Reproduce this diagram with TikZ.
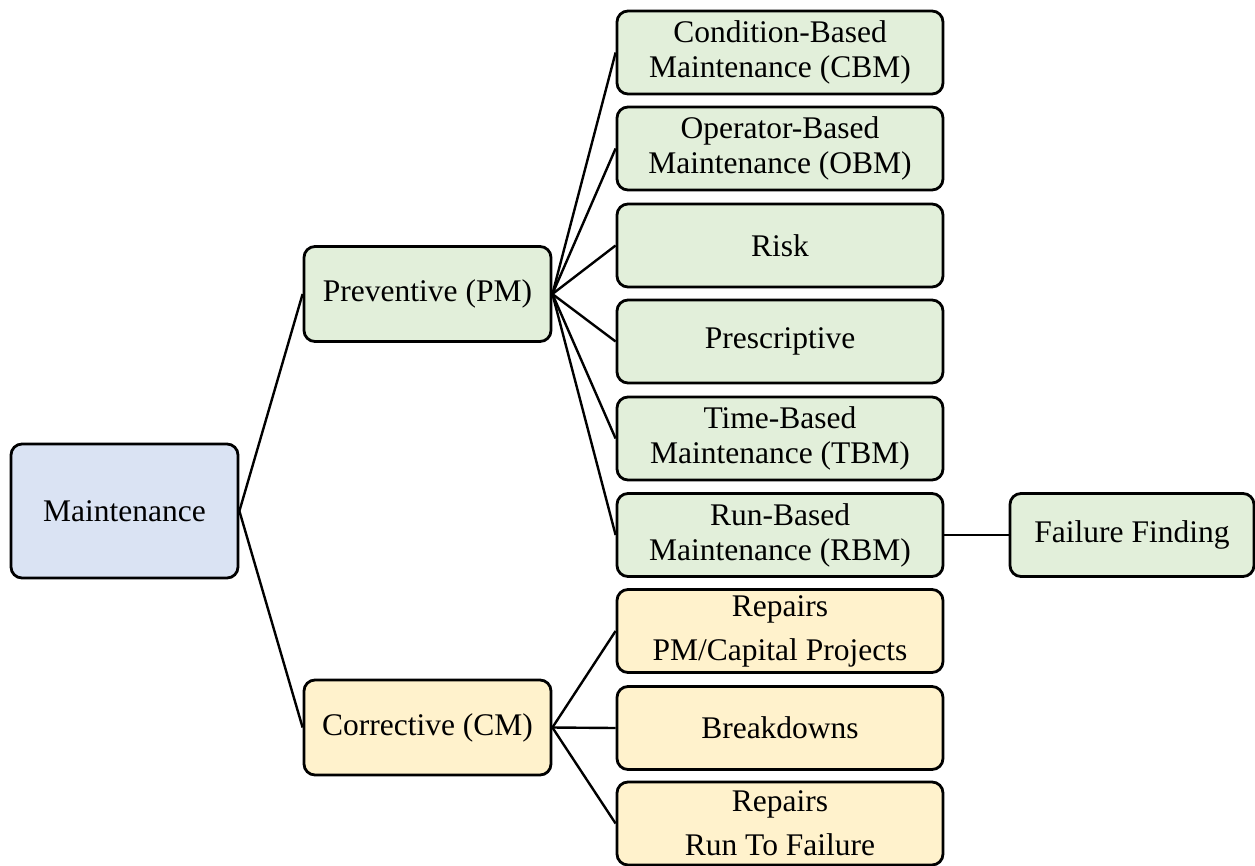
\documentclass[tikz,border=0pt]{standalone}
\usepackage{fontspec}
\setmainfont{Liberation Serif}
\definecolor{rootfill}{HTML}{DAE3F3}
\definecolor{pmfill}{HTML}{E2EFDA}
\definecolor{cmfill}{HTML}{FFF2CC}
\begin{document}
\begin{tikzpicture}[x=1pt,y=-1pt,
  box/.style={draw=black, line width=2.8pt, rounded corners=11pt, inner sep=0pt,
    align=center, font=\fontsize{31.5}{35}\selectfont},
  rootbox/.style={box, fill=rootfill, minimum width=227pt, minimum height=134pt},
  midbox/.style={box, minimum width=247pt, minimum height=95pt},
  leafbox/.style={box, minimum width=326pt, minimum height=83pt},
  pmbox/.style={fill=pmfill},
  cmbox/.style={fill=cmfill, font=\fontsize{31.5}{44}\selectfont},
  link/.style={draw=black, line width=2.4pt}]
\useasboundingbox (0,0) rectangle (1255,865);

% root and the two main branches
\node[rootbox] (main) at (124.5,511) {Maintenance};
\node[midbox,pmbox] (pm) at (427.5,294) {Preventive (PM)};
\node[midbox,cmbox] (cm) at (427.5,727.5) {Corrective (CM)};

% preventive leaves
\node[leafbox,pmbox] (cbm) at (780,52.5) {Condition-Based\\Maintenance (CBM)};
\node[leafbox,pmbox] (obm) at (780,148.5) {Operator-Based\\Maintenance (OBM)};
\node[leafbox,pmbox] (risk) at (780,245.5) {Risk};
\node[leafbox,pmbox] (presc) at (780,341.5) {Prescriptive};
\node[leafbox,pmbox] (tbm) at (780,438.5) {Time-Based\\Maintenance (TBM)};
\node[leafbox,pmbox] (rbm) at (780,535) {Run-Based\\Maintenance (RBM)};
\node[box,pmbox,minimum width=244pt,minimum height=83pt] (ff) at (1132,535) {Failure Finding};

% corrective leaves
\node[leafbox,cmbox] (rpc) at (780,631) {\raisebox{-2pt}{Repairs}\\\raisebox{-2pt}{PM/Capital Projects}};
\node[leafbox,cmbox] (brk) at (780,728) {Breakdowns};
\node[leafbox,cmbox] (rrf) at (780,823.5) {\raisebox{-2pt}{Repairs}\\\raisebox{-2pt}{Run To Failure}};

% connectors
\draw[link] (main.east) -- (pm.west);
\draw[link] (main.east) -- (cm.west);
\foreach \n in {cbm,obm,risk,presc,tbm,rbm}
  \draw[link] (pm.east) -- (\n.west);
\foreach \n in {rpc,brk,rrf}
  \draw[link] (cm.east) -- (\n.west);
\draw[link] (rbm.east) -- (ff.west);
\end{tikzpicture}
\end{document}
